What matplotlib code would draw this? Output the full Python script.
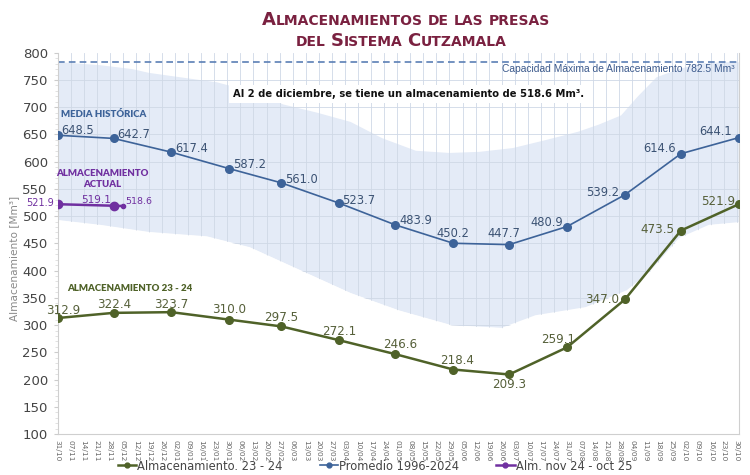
import matplotlib
matplotlib.use("Agg")
import matplotlib.pyplot as plt
import matplotlib.dates as mdates
from matplotlib.transforms import IdentityTransform
from matplotlib.lines import Line2D
import pandas as pd
import numpy as np

# ---------------- data ----------------
month_dates = ["2024-10-31", "2024-11-30", "2024-12-31", "2025-01-31", "2025-02-28",
               "2025-03-31", "2025-04-30", "2025-05-31", "2025-06-30", "2025-07-31",
               "2025-08-31", "2025-09-30", "2025-10-31"]
media_hist = [648.5, 642.7, 617.4, 587.2, 561.0, 523.7, 483.9, 450.2, 447.7, 480.9, 539.2, 614.6, 644.1]
alm_23_24 = [312.9, 322.4, 323.7, 310.0, 297.5, 272.1, 246.6, 218.4, 209.3, 259.1, 347.0, 473.5, 521.9]

actual_dates = ["2024-10-31", "2024-11-30", "2024-12-05"]
actual_vals = [521.9, 519.1, 518.6]

upper_dates = ["2024-10-31", "2024-11-23", "2024-12-10", "2024-12-19", "2025-01-15", "2025-01-24",
               "2025-02-11", "2025-03-01", "2025-03-19", "2025-04-06", "2025-04-23", "2025-05-11",
               "2025-05-29", "2025-06-14", "2025-07-02", "2025-07-20", "2025-08-06", "2025-08-17",
               "2025-08-29", "2025-09-07", "2025-09-17", "2025-09-29", "2025-10-10", "2025-10-22",
               "2025-10-31"]
upper_vals = [783, 777, 770, 763, 750, 746, 730, 705, 690, 673, 643, 620, 616, 618, 625, 640,
              655, 668, 685, 720, 755, 770, 780, 782.5, 782.5]

lower_dates = ["2024-10-31", "2024-11-23", "2024-12-19", "2025-01-19", "2025-02-11", "2025-03-10",
               "2025-04-06", "2025-05-02", "2025-05-30", "2025-06-26", "2025-07-14", "2025-08-10",
               "2025-09-01", "2025-09-14", "2025-09-29", "2025-10-15", "2025-10-31"]
lower_vals = [493, 484, 471, 463, 443, 401, 359, 327, 300, 295, 318, 333, 364, 401, 460, 484, 489]

capacity = 782.5
tick_start, tick_end = "2024-10-31", "2025-10-30"

# ---------------- styles ----------------
C_BLUE = "#3d6399"
C_BLUE_TXT = "#3b5273"
C_GREEN = "#4f6228"
C_GREEN_TXT = "#56603a"
C_PURPLE = "#7030a0"
C_BAND = "#e4ebf7"
C_GRID = "#cfd8e6"
C_TITLE = "#7a2140"

plt.rcParams['font.family'] = ['DejaVu Sans']

fig = plt.figure(figsize=(7.5, 4.75), dpi=100)
ax = fig.add_axes([0.0767, 0.0863, 0.9083, 0.8027])

md = pd.to_datetime(month_dates)
ad = pd.to_datetime(actual_dates)
ud = pd.to_datetime(upper_dates)
ld = pd.to_datetime(lower_dates)

ax.set_xlim(pd.Timestamp(month_dates[0]), pd.Timestamp(month_dates[-1]))
ax.set_ylim(100, 800)

# band polygon
xs = list(ud) + list(ld[::-1])
ys = list(upper_vals) + list(lower_vals[::-1])
ax.fill(xs, ys, color=C_BAND, lw=0, zorder=0.5)

# grid
week_ticks = pd.date_range(tick_start, tick_end, freq="7D")
for t in week_ticks:
    ax.axvline(t, color=C_GRID, lw=0.6, zorder=1)
for v in range(150, 800, 50):
    ax.axhline(v, color=C_GRID, lw=0.6, zorder=1)
# white region below band hides grid
ax.fill_between(ld, [100] * len(ld), lower_vals, color="white", lw=0, zorder=1.5)

# capacity line
ax.axhline(capacity, color="#5b7fb5", lw=1.2, ls=(0, (4, 2.5)), zorder=2)
ax.text(pd.Timestamp("2025-10-29"), 770, "Capacidad Máxima de Almacenamiento 782.5 Mm³",
        ha="right", va="center", fontsize=7.4, color="#3c5a8c", zorder=5,
        family=["Liberation Sans", "DejaVu Sans"])

# series
ax.plot(md, media_hist, color=C_BLUE, lw=1.2, marker="o", ms=5.5, zorder=4)
ax.plot(md, alm_23_24, color=C_GREEN, lw=1.8, marker="o", ms=5.5, zorder=4)
ax.plot(ad[:2], actual_vals[:2], color=C_PURPLE, lw=1.8, marker="o", ms=6, zorder=4)
ax.plot(ad[1:], actual_vals[1:], color=C_PURPLE, lw=1.8, zorder=4)
ax.plot(ad[2:], actual_vals[2:], color=C_PURPLE, lw=0, marker="o", ms=3, zorder=4)

def lab(x, y, s, dx, dy, ha, color, fs=8.3):
    ax.annotate(s, (x, y), xytext=(dx, dy), textcoords="offset pixels",
                ha=ha, va="center", fontsize=fs, color=color, zorder=6)

media_off = [(4, 5, "left"), (4, 4, "left"), (4, 4, "left"), (4, 4, "left"), (4, 3, "left"),
             (3, 3, "left"), (4, 4, "left"), (0, 10, "center"), (-5, 11, "center"),
             (-4, 4, "right"), (-6, 2, "right"), (-5, 5, "right"), (-7, 6, "right")]
for x, y, (dx, dy, ha) in zip(md, media_hist, media_off):
    lab(x, y, f"{y:.1f}", dx, dy, ha, C_BLUE_TXT)

green_off = [(6, 8, "center"), (1, 8, "center"), (0, 8, "center"), (0, 10, "center"),
             (0, 9, "center"), (0, 9, "center"), (5, 10, "center"), (4, 9, "center"),
             (0, -10, "center"), (-9, 8, "center"), (-6, 0, "right"), (-6, 1, "right"),
             (-4, 3, "right")]
for x, y, (dx, dy, ha) in zip(md, alm_23_24, green_off):
    lab(x, y, f"{y:.1f}", dx, dy, ha, C_GREEN_TXT, fs=8.6)

purple_off = [(-4, 1, "right", 7.0), (-2, 6, "right", 7.6), (2, 5, "left", 6.8)]
for x, y, (dx, dy, ha, fs) in zip(ad, actual_vals, purple_off):
    lab(x, y, f"{y:.1f}", dx, dy, ha, C_PURPLE, fs=fs)

# in-plot annotations
BF = ["Lato", "DejaVu Sans"]
ax.text(pd.Timestamp("2024-11-02"), 686, "MEDIA HISTÓRICA", fontsize=6.9, fontweight="heavy",
        color=C_BLUE, ha="left", va="center", zorder=6, family=BF)
ax.text(pd.Timestamp("2024-11-24"), 568, "ALMACENAMIENTO\nACTUAL", fontsize=6.9, fontweight="heavy",
        color=C_PURPLE, ha="center", va="center", linespacing=1.25, zorder=6, family=BF)
ax.text(pd.Timestamp("2024-11-05"), 368, "ALMACENAMIENTO 23 - 24", fontsize=6.9, fontweight="heavy",
        color=C_GREEN, ha="left", va="center", zorder=6, family=BF)
ax.text(pd.Timestamp("2025-05-07"), 724, "Al 2 de diciembre, se tiene un almacenamiento de 518.6 Mm³.",
        fontsize=7.2, fontweight="bold", color="#111111", ha="center", va="center", zorder=6,
        bbox=dict(facecolor="white", edgecolor="none", pad=3))

# axes styling
ax.set_yticks(range(100, 801, 50))
ax.set_yticks(range(100, 801, 10), minor=True)
ax.tick_params(axis="y", which="major", labelsize=9.5, labelcolor="#444444", length=3,
               color="#cccccc", pad=4)
ax.tick_params(axis="y", which="minor", length=2, color="#dddddd")
ax.set_xticks(week_ticks)
ax.xaxis.set_major_formatter(mdates.DateFormatter("%d/%m"))
ax.tick_params(axis="x", labelsize=5.3, labelcolor="#666666", length=0, pad=4, labelrotation=-90)
for lbl in ax.get_xticklabels():
    lbl.set_ha("center")
for side in ["left", "bottom", "right"]:
    ax.spines[side].set_color("#cfcfcf")
    ax.spines[side].set_linewidth(0.8)
ax.spines["top"].set_visible(False)
ax.set_ylabel("Almacenamiento [Mm³]", fontsize=7.6, color="#8a8a8a")
ax.yaxis.set_label_coords(-0.057, 0.46)

# legend
handles = [Line2D([], [], color=C_GREEN, lw=1.8, marker="o", ms=3.5),
           Line2D([], [], color=C_BLUE, lw=1.2, marker="o", ms=3.5),
           Line2D([], [], color=C_PURPLE, lw=1.8, marker="o", ms=3.5)]
fig.legend(handles, ["Almacenamiento. 23 - 24", "Promedio 1996-2024", "Alm. nov 24 - oct 25"],
           loc="center", bbox_to_anchor=(0.5, 1 - 466 / 475), ncol=3, frameon=False,
           fontsize=8.3, handlelength=1.6, handletextpad=0.1, columnspacing=3.2,
           labelcolor="#444444")

# title in small caps
renderer = fig.canvas.get_renderer()

def smallcaps(s, cx, y, big, small, color):
    pieces = []
    for ch in s:
        if ch == " ":
            pieces.append([" ", None])
            continue
        sz = big if ch.isupper() else small
        if pieces and pieces[-1][1] == sz:
            pieces[-1][0] += ch.upper()
        else:
            pieces.append([ch.upper(), sz])
    objs = []
    widths = []
    for t, sz in pieces:
        if t == " ":
            a = fig.text(0, 0, "AA", fontsize=small, fontweight="semibold")
            b = fig.text(0, 0, "A A", fontsize=small, fontweight="semibold")
            w = b.get_window_extent(renderer).width - a.get_window_extent(renderer).width
            a.remove(); b.remove()
            objs.append(None)
            widths.append(w)
        else:
            tx = fig.text(0, y, t, fontsize=sz, color=color, fontweight="semibold",
                          transform=IdentityTransform(), ha="left", va="baseline")
            widths.append(tx.get_window_extent(renderer).width)
            objs.append(tx)
    total = sum(widths)
    x = cx - total / 2
    for o, w in zip(objs, widths):
        if o is not None:
            o.set_x(x)
        x += w

smallcaps("Almacenamientos de las presas", 406, 475 - 25, 13, 10, C_TITLE)
smallcaps("del Sistema Cutzamala", 401, 475 - 46, 13, 10, C_TITLE)

fig.savefig("out.png", dpi=100)
